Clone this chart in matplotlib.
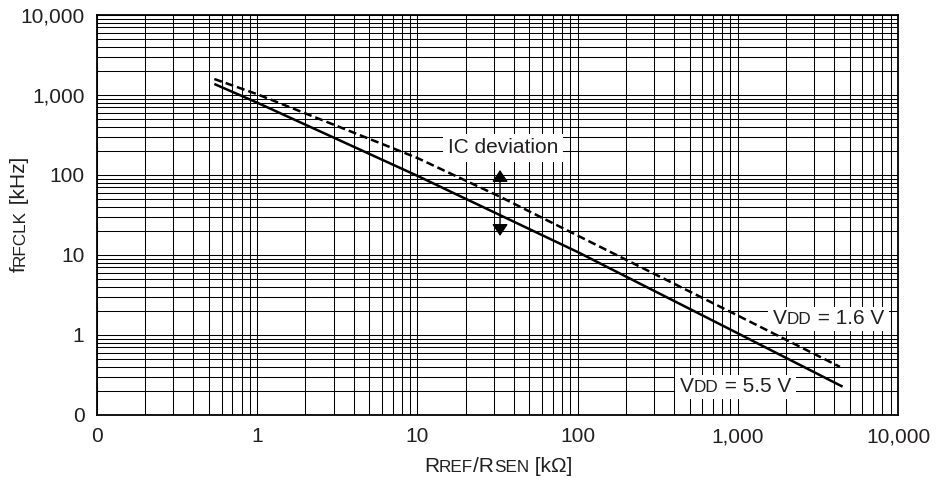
import matplotlib
matplotlib.use("Agg")
import matplotlib.pyplot as plt
from matplotlib.ticker import FixedLocator, FixedFormatter, LogLocator, NullFormatter
from matplotlib.patches import ArrowStyle, Rectangle
from matplotlib.transforms import Bbox, IdentityTransform

plt.rcParams["font.family"] = ["Liberation Sans", "DejaVu Sans"]

# Oscillator frequency vs. reference/sensor resistance
r_vdd55 = [0.54, 1, 10, 100, 1000, 4510]         # kOhm
f_vdd55 = [1372, 802, 97.6, 10.9, 1.05, 0.226]   # kHz
r_vdd16 = [0.54, 1, 10, 32.8, 103.5, 1000, 4340]
f_vdd16 = [1585, 1023, 163, 53.5, 16.9, 1.75, 0.40]

decades = [0.1, 1, 10, 100, 1000, 10000]
decade_labels = ["0", "1", "10", "100", "1,000", "10,000"]

# IC deviation marker: resistance and frequency span of the arrow
dev_r = 32.8
dev_f_low, dev_f_high = 17.3, 115.5

TEXT = "#231f20"
FS = 15
FS_SMALL = 12.3

fig = plt.figure(figsize=(9.37, 4.8), dpi=100)
ax = fig.add_axes([97 / 937, 65 / 480, 801 / 937, 400 / 480])

ax.set_xscale("log")
ax.set_yscale("log")
ax.set_xlim(decades[0], decades[-1])
ax.set_ylim(decades[0], decades[-1])

for axis in (ax.xaxis, ax.yaxis):
    axis.set_major_locator(FixedLocator(decades))
    axis.set_major_formatter(FixedFormatter(decade_labels))
    axis.set_minor_locator(LogLocator(base=10, subs=range(2, 10), numticks=100))
    axis.set_minor_formatter(NullFormatter())

ax.tick_params(which="both", length=0, pad=9, labelsize=FS, labelcolor=TEXT)
ax.grid(which="both", color="black", lw=0.75)
ax.set_axisbelow(True)
for sp in ax.spines.values():
    sp.set_linewidth(1.3)
    sp.set_color("black")

ax.plot(r_vdd55, f_vdd55, color="black", lw=1.8, solid_capstyle="butt", zorder=3)
ax.plot(r_vdd16, f_vdd16, color="black", lw=1.8, linestyle=(0, (3.2, 1.6)),
        dash_capstyle="butt", zorder=3)

# double-headed arrow marking the device spread
ax.annotate("", xy=(dev_r, dev_f_low), xytext=(dev_r, dev_f_high),
            arrowprops=dict(arrowstyle=ArrowStyle("<|-|>", head_length=0.4, head_width=0.27),
                            mutation_scale=18, color="black", lw=1.0,
                            shrinkA=0, shrinkB=0), zorder=4)
ax.text(34.2, 218, "IC deviation", fontsize=FS, color=TEXT, ha="center", va="center",
        zorder=5, bbox=dict(boxstyle="square,pad=0.22", fc="white", ec="none"))


def mixed_label(pieces, xy, coords, rotation=0, zorder=6):
    """Write text pieces of different sizes along a shared baseline."""
    prev = None
    parts = []
    for s, size in pieces:
        if prev is None:
            xyc, pos = coords, xy
        elif rotation == 0:
            xyc, pos = (prev, coords), (1, xy[1])
        else:
            xyc, pos = (coords, prev), (xy[0], 1)
        prev = ax.annotate(s, xy=pos, xycoords=xyc, fontsize=size, rotation=rotation,
                           rotation_mode="anchor", ha="left", va="baseline",
                           color=TEXT, annotation_clip=False, zorder=zorder)
        parts.append(prev)
    return parts


vdd_labels = [
    mixed_label([("V", FS), ("DD", FS_SMALL), (" = 1.6 V", FS)], (1660, 1.37), "data"),
    mixed_label([("V", FS), ("DD", FS_SMALL), (" = 5.5 V", FS)], (436, 0.194), "data"),
]

# axis titles with small-caps subscripts
mixed_label([("R", FS), ("REF", FS_SMALL), ("/R", FS), ("SEN", FS_SMALL), (" [kΩ]", FS)],
            (424, 8), "figure pixels")
mixed_label([("f", FS), ("RFCLK", FS_SMALL), (" [kHz]", FS)],
            (25, 208), "figure pixels", rotation=90)

# white plates behind the supply-voltage labels so the grid does not run through them
fig.canvas.draw()
for parts in vdd_labels:
    box = Bbox.union([t.get_window_extent() for t in parts])
    x0, y0, x1, y1 = box.x0 - 5, box.y0 - 3, box.x1 + 5, box.y1 + 2
    ax.add_patch(Rectangle((x0, y0), x1 - x0, y1 - y0, transform=IdentityTransform(),
                           fc="white", ec="none", zorder=5, clip_on=False))

fig.savefig("out.png", dpi=100)
